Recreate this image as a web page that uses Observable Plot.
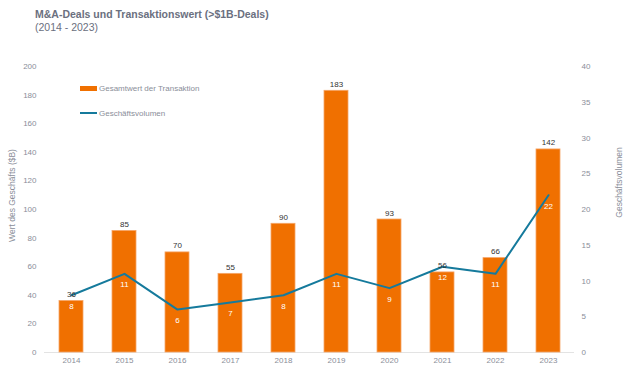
<!DOCTYPE html>
<html>
<head>
<meta charset="utf-8">
<script src="https://cdn.jsdelivr.net/npm/d3@7"></script>
<script src="https://cdn.jsdelivr.net/npm/@observablehq/plot@0.6"></script>
<style>
  body { margin: 0; font-family: "Liberation Sans", Arial, sans-serif; background: #fff; }
  #wrap { position: relative; width: 640px; height: 371px; }
  #title { height: 44px; box-sizing: border-box; padding: 8px 0 0 35px; color: #6b7080; font-size: 10.5px; line-height: 13px; }
  #title b { font-weight: bold; }
  #legend { position: absolute; left: 80px; top: 82px; font-size: 8px; color: #8a8e99; }
  #legend .row { display: flex; align-items: center; height: 12px; }
  #legend .row + .row { margin-top: 13px; }
  #legend .sw { width: 17px; margin-right: 2px; }
</style>
</head>
<body>
<div id="wrap">
  <div id="title"><b>M&amp;A-Deals und Transaktionswert (&gt;$1B-Deals)</b><br>(2014 - 2023)</div>
  <div id="chart"></div>
  <div id="legend">
    <div class="row"><span class="sw" style="height:5px;background:#F07000"></span>Gesamtwert der Transaktion</div>
    <div class="row"><span class="sw" style="height:2px;background:#157A9C"></span>Geschäftsvolumen</div>
  </div>
</div>
<script>
const years = ["2014","2015","2016","2017","2018","2019","2020","2021","2022","2023"];
const dealValues = [36, 85, 70, 55, 90, 183, 93, 56, 66, 142];
const dealVolumes = [8, 11, 6, 7, 8, 11, 9, 12, 11, 22];
const leftTicks = [0, 20, 40, 60, 80, 100, 120, 140, 160, 180, 200];
const rightTicks = [0, 5, 10, 15, 20, 25, 30, 35, 40];
const ratio = 200 / 40;

const rows = years.map((y, i) => ({year: y, value: dealValues[i], volume: dealVolumes[i], volScaled: dealVolumes[i] * ratio}));

const chart = Plot.plot({
  width: 640,
  height: 327,
  marginLeft: 44,
  marginRight: 66,
  marginTop: 22,
  marginBottom: 19,
  style: {fontFamily: "Liberation Sans, Arial, sans-serif", fontSize: "8px", color: "#8a8e99"},
  x: {domain: years, paddingInner: 0.55, paddingOuter: 0.275, label: null},
  y: {domain: [0, 200], label: null},
  marks: [
    Plot.axisX({tickSize: 0, tickPadding: 5, fill: "#8a8e99", label: null}),
    Plot.axisY({ticks: leftTicks, tickSize: 0, tickPadding: 8, fill: "#8a8e99", label: null}),
    Plot.axisY({ticks: rightTicks.map(d => d * ratio), tickFormat: d => d / ratio, anchor: "right", tickSize: 0, tickPadding: 7, textAnchor: "start", fill: "#8a8e99", label: null}),
    Plot.ruleY([0], {stroke: "#e3e3e3"}),
    Plot.barY(rows, {x: "year", y: "value", fill: "#F07000", stroke: "#f5a568", strokeWidth: 0.8}),
    Plot.line(rows, {x: "year", y: "volScaled", stroke: "#157A9C", strokeWidth: 2}),
    Plot.text(rows, {x: "year", y: "value", text: d => String(d.value), lineAnchor: "bottom", dy: -4, fill: "#333", fontSize: 8}),
    Plot.text(rows, {x: "year", y: "volScaled", text: d => String(d.volume), dy: 11, fill: "#fff", fontSize: 8}),
    Plot.text(["Wert des Geschäfts ($B)"], {frameAnchor: "left", text: d => d, rotate: -90, textAnchor: "middle", dx: -32, dy: -14, fill: "#8a8e99", fontSize: 8.5}),
    Plot.text(["Geschäftsvolumen"], {frameAnchor: "right", text: d => d, rotate: -90, textAnchor: "middle", dx: 45, dy: -27, fill: "#8a8e99", fontSize: 8.5})
  ]
});
document.getElementById("chart").appendChild(chart);
</script>
</body>
</html>
